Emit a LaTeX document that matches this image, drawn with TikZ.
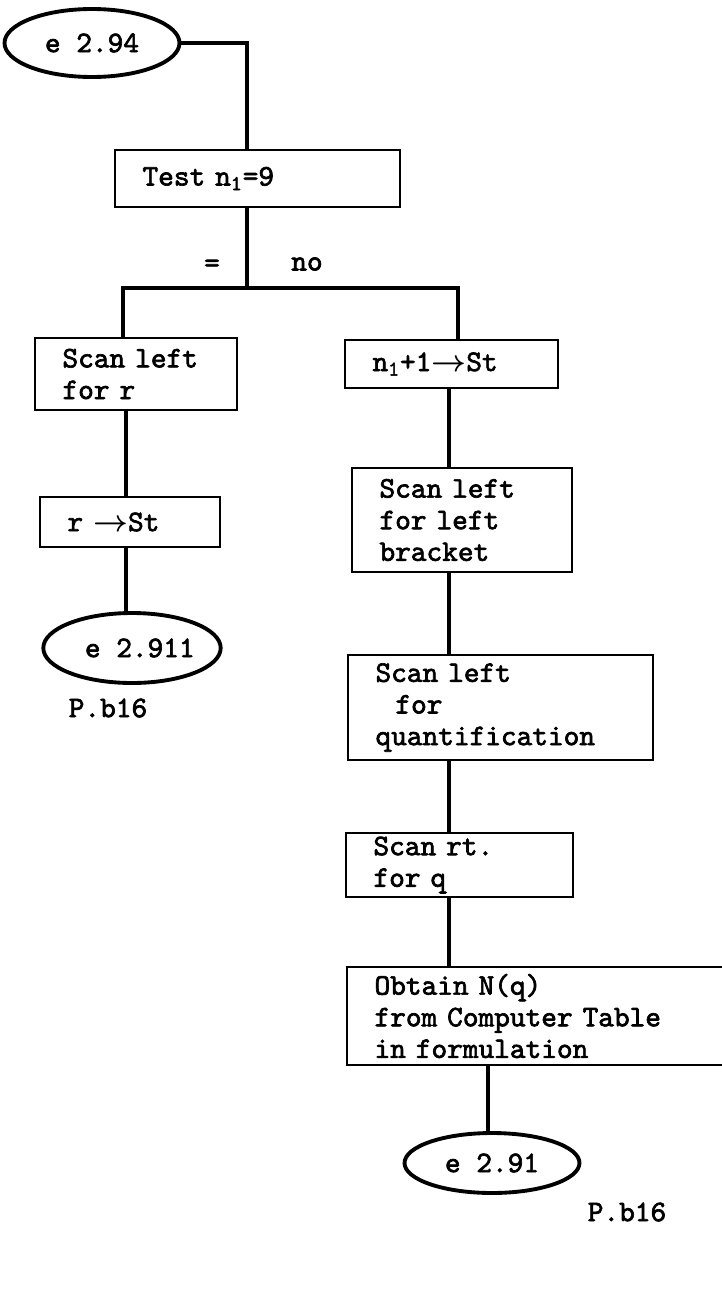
\documentclass[tikz,border=0pt]{standalone}
\usepackage{fontspec}
\usepackage{amsmath}
\usetikzlibrary{shapes.geometric}
\newfontfamily\flowtt{lmmono10-regular}[Extension=.otf, AutoFakeBold=2.2]
\newcommand{\flowfont}{\flowtt\bfseries\fontsize{17}{18}\selectfont}
\tikzset{
  procbox/.style={draw, line width=1.5pt, inner xsep=0.55cm, inner ysep=2pt, align=left, font=\flowfont},
  termoval/.style={draw, ellipse, line width=2.2pt, inner sep=0pt, minimum width=3.5cm, font=\flowfont},
  flowline/.style={line width=1.8pt},
  plaintext/.style={font=\flowfont, inner sep=1pt}
}
\begin{document}
\begin{tikzpicture}[x=0.02cm, y=-0.02cm]
  \useasboundingbox (0,0) rectangle (722,1292);

  % entry and test
  \node[termoval, minimum height=1.36cm] (e294) at (92,43) {e 2.94};
  \node[procbox, text width=4.6cm, minimum height=1.14cm] (test) at (257.5,178.5) {Test n\textsubscript{1}=9};
  \node[plaintext] (eqlab) at (212,266) {=};
  \node[plaintext] (nolab) at (307,264) {no};

  % left branch
  \node[procbox, text width=2.94cm, minimum height=1.44cm] (scanr) at (136,374) {Scan left\\for r};
  \node[procbox, text width=2.5cm, minimum height=1.0cm] (rst) at (130,522) {r $\boldsymbol{\rightarrow}$St};
  \node[termoval, minimum height=1.4cm] (e2911) at (132,648) {\ e 2.911};
  \node[plaintext] (pageleft) at (108,708) {P.b16};

  % right branch
  \node[procbox, text width=3.16cm, minimum height=0.96cm] (n1st) at (451.5,364) {n\textsubscript{1}+1$\boldsymbol{\rightarrow}$St};
  \node[procbox, text width=3.3cm, minimum height=2.08cm] (bracket) at (462,520) {Scan left\\for left\\bracket};
  \node[procbox, text width=5.0cm, minimum height=2.1cm] (quant) at (500.5,707.5) {Scan left\\\ \ for\\quantification};
  \node[procbox, text width=3.44cm, minimum height=1.28cm] (scanq) at (459.5,865) {Scan rt.\\for q};
  \node[procbox, text width=6.56cm, minimum height=1.96cm] (obtain) at (538.5,1016) {Obtain N(q)\\from Computer Table\\in formulation};
  \node[termoval, minimum height=1.2cm] (e291) at (492,1163) {e 2.91};
  \node[plaintext] (pageright) at (627,1212) {P.b16};

  % connectors
  \coordinate (fork) at (247,288);
  \coordinate (forkl) at (123,288);
  \coordinate (forkr) at (458,288);
  \coordinate (lcol) at (126,0);
  \coordinate (rcol) at (449,0);
  \coordinate (bcol) at (488,0);

  \draw[flowline] (e294.east) -| (test.north -| fork);
  \draw[flowline] (test.south -| fork) -- (fork);
  \draw[flowline] (scanr.north -| forkl) |- (forkr) -- (n1st.north -| forkr);

  \draw[flowline] (scanr.south -| lcol) -- (rst.north -| lcol);
  \draw[flowline] (rst.south -| lcol) -- (e2911.north -| lcol);

  \draw[flowline] (n1st.south -| rcol) -- (bracket.north -| rcol);
  \draw[flowline] (bracket.south -| rcol) -- (quant.north -| rcol);
  \draw[flowline] (quant.south -| rcol) -- (scanq.north -| rcol);
  \draw[flowline] (scanq.south -| rcol) -- (obtain.north -| rcol);
  \draw[flowline] (obtain.south -| bcol) -- (e291.north -| bcol);
\end{tikzpicture}
\end{document}
